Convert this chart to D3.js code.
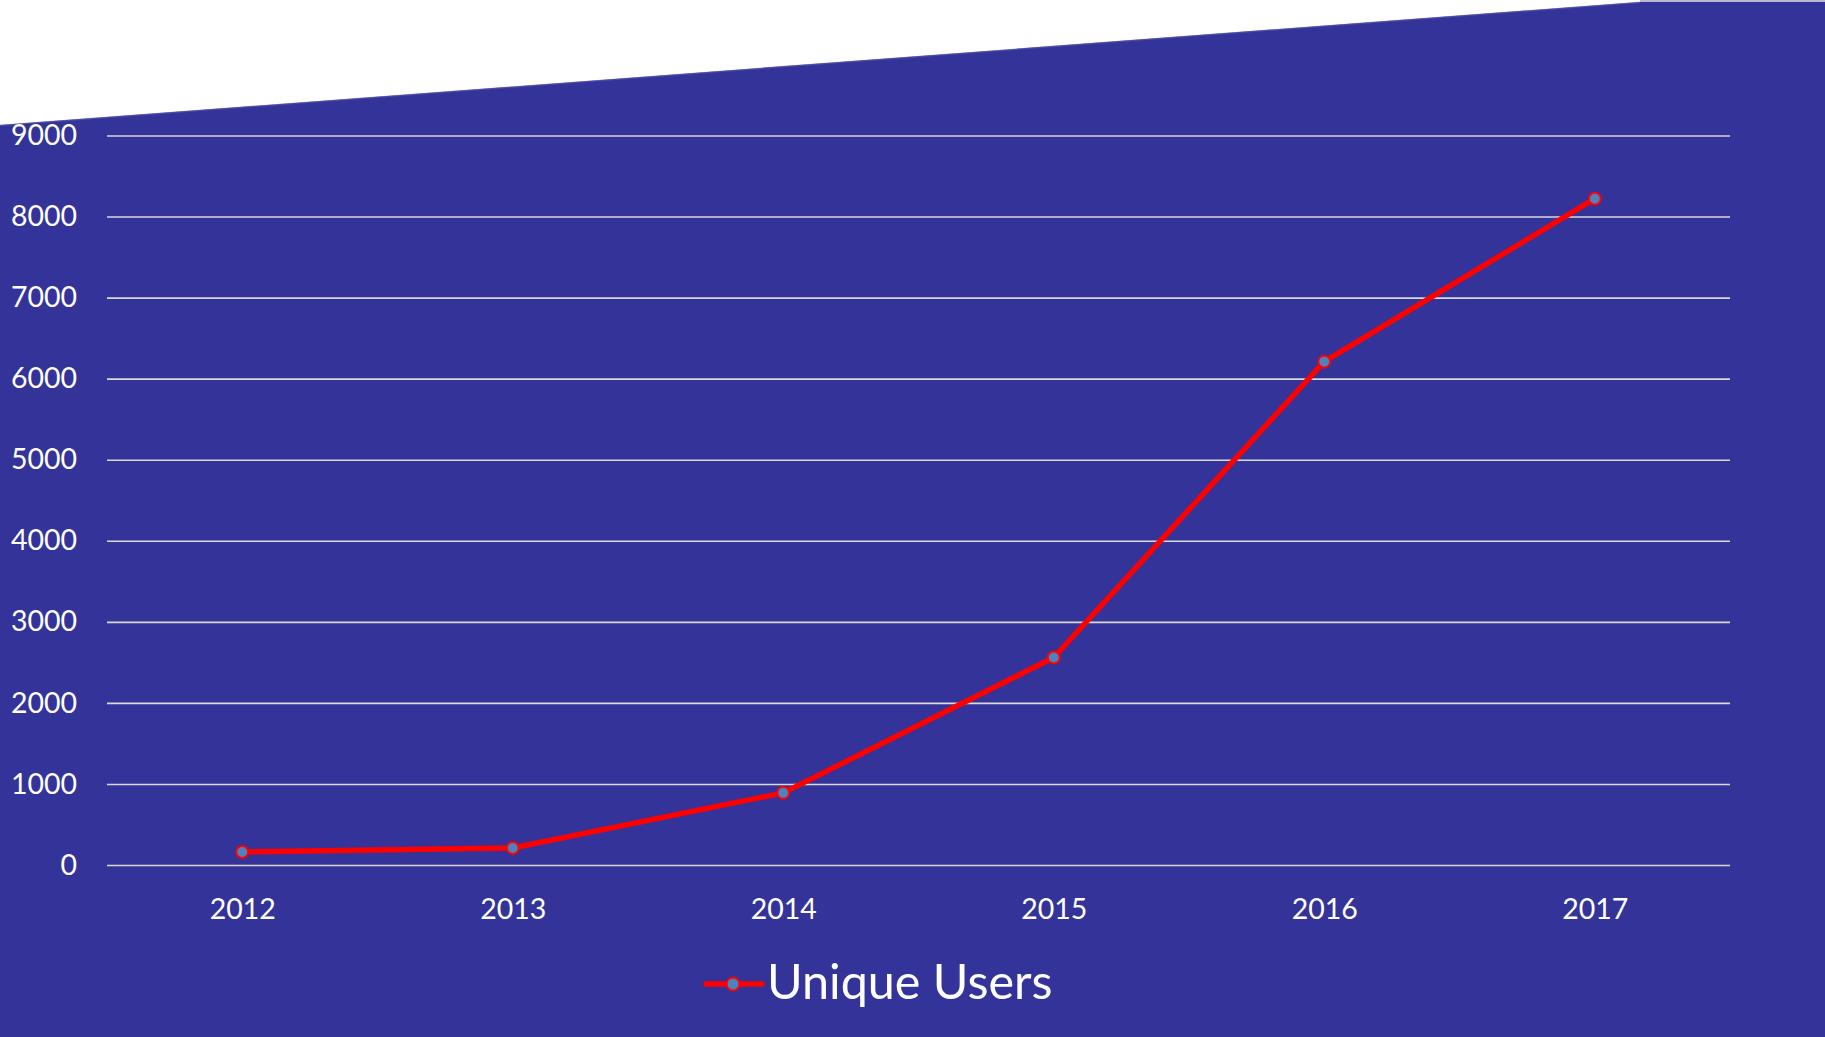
<!DOCTYPE html>
<html>
<head>
<meta charset="utf-8">
<script src="https://cdn.jsdelivr.net/npm/d3@7"></script>
<style>
  html, body { margin: 0; padding: 0; background: #333399; overflow: hidden; }
  svg { display: block; }
</style>
</head>
<body>
<svg id="chart" width="1825" height="1037"></svg>
<script>
const years = ["2012", "2013", "2014", "2015", "2016", "2017"];
const uniqueUsers = [160, 210, 890, 2560, 6210, 8220];
const yTicks = [0, 1000, 2000, 3000, 4000, 5000, 6000, 7000, 8000, 9000];
const seriesName = "Unique Users";

const W = 1825, H = 1037;
const plotLeft = 107, plotRight = 1730, plotTop = 135.5, plotBottom = 865;
const font = "Lato, 'Open Sans', sans-serif";

const svg = d3.select("#chart");

svg.append("rect").attr("width", W).attr("height", H).attr("fill", "#333399");

// white decorative wedge at the top
svg.append("path")
  .attr("d", "M0,0 L1640,0 L1640,2 L0,125 Z")
  .attr("fill", "#ffffff");
svg.append("line")
  .attr("x1", 0).attr("y1", 125.5).attr("x2", 1640).attr("y2", 2.5)
  .attr("stroke", "#5a5aa8").attr("stroke-width", 1.5).attr("opacity", 0.6);
svg.append("rect").attr("x", 1640).attr("y", 0).attr("width", W - 1640).attr("height", 2)
  .attr("fill", "#b8b8d0");

const x = d3.scalePoint().domain(years).range([plotLeft, plotRight]).padding(0.5);
const y = d3.scaleLinear().domain([0, 9000]).range([plotBottom, plotTop]);

// y axis with gridlines
const yAxis = svg.append("g")
  .attr("transform", `translate(${plotLeft},0)`)
  .call(d3.axisLeft(y).tickValues(yTicks).tickFormat(d3.format("d"))
        .tickSize(-(plotRight - plotLeft)).tickPadding(30));
yAxis.select(".domain").remove();
yAxis.selectAll(".tick line").attr("stroke", "#d9d9d9").attr("stroke-width", 1.6);
yAxis.selectAll(".tick text").attr("fill", "#ffffff")
  .style("font-family", font).style("font-size", "28.5px");

// x axis labels
const xAxis = svg.append("g")
  .attr("transform", `translate(0,${plotBottom})`)
  .call(d3.axisBottom(x).tickSize(0).tickPadding(34));
xAxis.select(".domain").remove();
xAxis.selectAll(".tick text").attr("fill", "#ffffff")
  .style("font-family", font).style("font-size", "28.5px");

// line
const data = years.map((yr, i) => ({ yr, v: uniqueUsers[i] }));
svg.append("path")
  .datum(data)
  .attr("fill", "none")
  .attr("stroke", "#ff0000")
  .attr("stroke-width", 5.5)
  .attr("stroke-linejoin", "round")
  .attr("stroke-linecap", "round")
  .attr("d", d3.line().x(d => x(d.yr)).y(d => y(d.v)));

svg.selectAll("circle.pt")
  .data(data)
  .enter().append("circle")
  .attr("class", "pt")
  .attr("cx", d => x(d.yr))
  .attr("cy", d => y(d.v))
  .attr("r", 6)
  .attr("fill", "#4f81bd")
  .attr("stroke", "#ff0000")
  .attr("stroke-width", 2);

// legend
const lg = svg.append("g").attr("transform", "translate(706,984)");
lg.append("line").attr("x1", 0).attr("x2", 56).attr("y1", 0).attr("y2", 0)
  .attr("stroke", "#ff0000").attr("stroke-width", 5.5).attr("stroke-linecap", "round");
lg.append("circle").attr("cx", 27).attr("cy", 0).attr("r", 6.5)
  .attr("fill", "#4f81bd").attr("stroke", "#ff0000").attr("stroke-width", 2);
lg.append("text").attr("x", 61).attr("y", 15)
  .attr("fill", "#ffffff")
  .style("font-family", font).style("font-size", "48.5px")
  .text(seriesName);
</script>
</body>
</html>
